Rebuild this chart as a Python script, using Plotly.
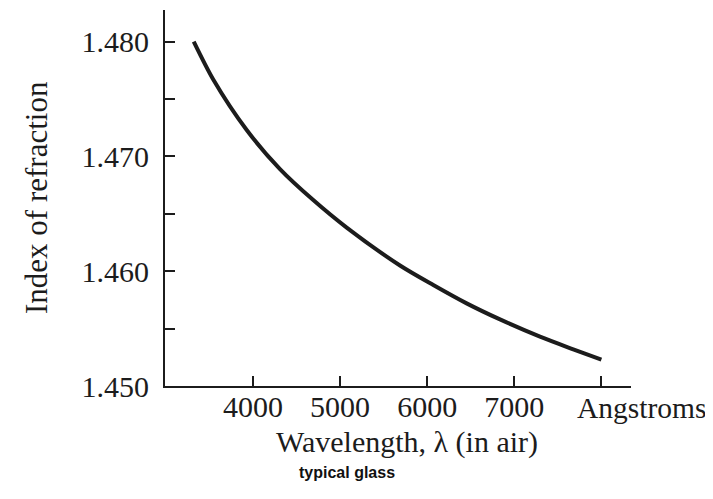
import plotly.graph_objects as go

# Data
wavelength = [3320, 3544, 3928, 4310, 4692, 5076, 5688, 6070, 6453, 6836, 7295, 7677, 8000]
refr_index = [1.4800, 1.4767, 1.4723, 1.4689, 1.4662, 1.4638, 1.4605, 1.4588, 1.4572, 1.4558, 1.4543, 1.4532, 1.4523]

x_tickvals = [4000, 5000, 6000, 7000, 8000]
x_ticktext = ["4000", "5000", "6000", "7000", ""]
x_unit_label = "Angstroms"
y_tickvals = [1.450, 1.455, 1.460, 1.465, 1.470, 1.475, 1.480]
y_ticktext = ["1.450", "", "1.460", "", "1.470", "", "1.480"]

serif = "Liberation Serif, Times New Roman, serif"
ink = "#1c1c1c"

# page body has an 8px margin; plot area targeted at x 165..631, y 10..386 on the page
fig = go.Figure()
fig.add_trace(go.Scatter(
    x=wavelength, y=refr_index, mode="lines",
    line=dict(color=ink, width=4, shape="spline", smoothing=0.8),
    showlegend=False, hoverinfo="skip",
))

pw, ph = 466.0, 376.0

fig.update_layout(
    width=705, height=491,
    margin=dict(l=157, r=82, t=2, b=113),
    paper_bgcolor="white", plot_bgcolor="white",
    font=dict(family=serif, color=ink, size=29),
    xaxis=dict(
        range=[2990, 8340], showgrid=False, zeroline=False, automargin=False,
        showline=True, linecolor=ink, linewidth=2,
        ticks="inside", ticklen=10, tickwidth=2, tickcolor=ink,
        tickvals=x_tickvals, ticktext=x_ticktext, tickangle=0,
        tickfont=dict(family=serif, size=30, color=ink),
        ticklabelstandoff=-7,
    ),
    yaxis=dict(
        range=[1.450, 1.48276], showgrid=False, zeroline=False, automargin=False,
        showline=True, linecolor=ink, linewidth=2,
        ticks="inside", ticklen=10, tickwidth=2, tickcolor=ink,
        tickvals=y_tickvals, ticktext=y_ticktext,
        tickfont=dict(family=serif, size=30, color=ink),
        ticklabelstandoff=8,
    ),
    annotations=[
        dict(text=x_unit_label, xref="paper", yref="paper",
             x=(575 - 165) / pw, y=-(407.5 - 386) / ph,
             xanchor="left", yanchor="middle", showarrow=False,
             font=dict(family=serif, size=29.5, color=ink)),
        dict(text="Wavelength, λ (in air)", xref="paper", yref="paper",
             x=(406.6 - 165) / pw, y=-(442 - 386) / ph,
             xanchor="center", yanchor="middle", showarrow=False,
             font=dict(family=serif, size=30, color=ink)),
        dict(text="<b>typical glass</b>", xref="paper", yref="paper",
             x=(346.6 - 165) / pw, y=-(472 - 386) / ph,
             xanchor="center", yanchor="middle", showarrow=False,
             font=dict(family="Liberation Sans, Arial, sans-serif", size=16, color="#111111")),
        dict(text="Index of refraction", xref="paper", yref="paper",
             x=-(165 - 36) / pw, y=(386 - 198) / ph, textangle=-90,
             xanchor="center", yanchor="middle", showarrow=False,
             font=dict(family=serif, size=31, color=ink)),
    ],
)

fig.write_html("out.html")
